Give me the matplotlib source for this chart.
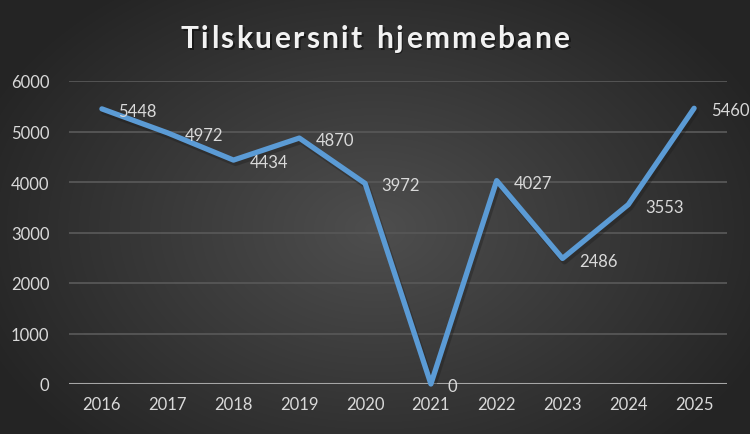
import numpy as np
import matplotlib
matplotlib.use("Agg")
import matplotlib.pyplot as plt

years = ["2016", "2017", "2018", "2019", "2020", "2021", "2022", "2023", "2024", "2025"]
spectators = [5448, 4972, 4434, 4870, 3972, 0, 4027, 2486, 3553, 5460]
y_ticks = [0, 1000, 2000, 3000, 4000, 5000, 6000]
title = "Tilskuersnit hjemmebane"

plt.rcParams["font.family"] = ["Lato", "DejaVu Sans"]

W, H = 750, 435
fig = plt.figure(figsize=(W / 100, H / 100), dpi=100)

# radial background gradient
bg = fig.add_axes([0, 0, 1, 1], zorder=-5)
yy, xx = np.mgrid[0:H, 0:W]
r = np.sqrt(((xx - 375) / 430.0) ** 2 + ((yy - 230) / 300.0) ** 2)
r = np.clip(r, 0, 1)
lum = 0x4e / 255 * (1 - r) + 0x24 / 255 * r
img = np.dstack([lum, lum, lum])
bg.imshow(img, aspect="auto", extent=[0, 1, 0, 1], origin="upper")
bg.axis("off")

ax = fig.add_axes([69 / W, 1 - 385 / H, 658 / W, 303 / H])
ax.patch.set_alpha(0)
x = np.arange(len(years))
ax.set_xlim(-0.5, len(years) - 0.5)
ax.set_ylim(0, 6000)

for t in y_ticks[1:]:
    ax.axhline(t, color="#575757", lw=1.3, zorder=1)
ax.axhline(0, color="#a6a6a6", lw=1.5, zorder=1)

# line with a soft shadow
ax.plot(x + 0.03, np.array(spectators) - 60, color="#1a1a1a", lw=4.2, alpha=0.35,
        solid_capstyle="round", solid_joinstyle="round", zorder=2)
ax.plot(x, spectators, color="#5b9bd5", lw=3.8,
        solid_capstyle="round", solid_joinstyle="round", zorder=3, clip_on=False)

for xi, v in zip(x, spectators):
    ax.annotate(str(v), (xi, v), xytext=(12, -1.5), textcoords="offset points",
                ha="left", va="center", color="#d9d9d9", fontsize=12)

ax.set_xticks(x)
ax.set_xticklabels(years)
ax.set_yticks(y_ticks)
ax.tick_params(length=0, colors="#d9d9d9", labelsize=12)
ax.tick_params(axis="x", pad=9)
ax.tick_params(axis="y", pad=14)
for s in ax.spines.values():
    s.set_visible(False)

# letter-spaced bold title
renderer = fig.canvas.get_renderer()
spacing = 2.4
fs = 21.5
widths = []
for ch in title:
    t = fig.text(0, 0, ch if ch != " " else "i", fontsize=fs, fontweight="bold")
    w = t.get_window_extent(renderer).width
    if ch == " ":
        w = w * 1.3
    widths.append(w)
    t.remove()
total = sum(widths) + spacing * (len(title) - 1)
xpos = 375 - total / 2
for ch, w in zip(title, widths):
    if ch != " ":
        fig.text((xpos + 1.5) / W, 1 - 49.5 / H, ch, fontsize=fs, fontweight="bold",
                 color="#000000", alpha=0.45, va="baseline")
        fig.text(xpos / W, 1 - 48 / H, ch, fontsize=fs, fontweight="bold",
                 color="#f2f2f2", va="baseline")
    xpos += w + spacing

fig.savefig("out.png", dpi=100)
